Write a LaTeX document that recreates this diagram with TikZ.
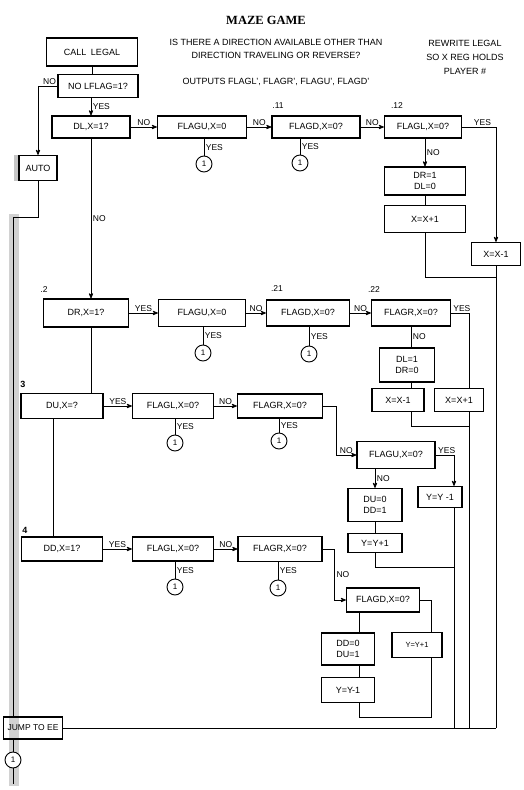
\documentclass[tikz,border=0pt]{standalone}
\usepackage{fontspec}
\setmainfont{Liberation Sans}
\newfontfamily\titlefont{Liberation Serif}
\usetikzlibrary{arrows}

\begin{document}
\begin{tikzpicture}[>=stealth',x=1pt,y=-1pt,line width=0.8pt]
	\path[use as bounding box,fill=white] (0,0) rectangle (523,790);
	\tikzset{box/.style={draw,fill=white,line width=1.3pt,inner sep=0pt,align=center,font=\fontsize{9}{11}\selectfont}}
	\tikzset{heavy/.style={line width=1.9pt}}
	\tikzset{sz/.style 2 args={minimum width=#1pt,minimum height=#2pt}}
	\tikzset{conn/.style={circle,draw,fill=white,line width=0.9pt,minimum size=16pt,inner sep=0pt,font=\fontsize{8}{9}\selectfont}}
	\tikzset{lbl/.style={font=\fontsize{8.5}{10}\selectfont,inner sep=1.5pt}}
	\tikzset{tag/.style={font=\fontsize{8.5}{10}\selectfont,inner sep=0pt}}
	\tikzset{note/.style={align=center,font=\fontsize{9}{13.5}\selectfont}}
	\fill[gray!35] (9,214) rectangle (19,786);
	
	\node[font=\titlefont\bfseries\fontsize{12.5}{14}\selectfont] (title) at (266,20) {MAZE GAME};
	\node[note] (ask) at (276,49) {IS THERE A DIRECTION AVAILABLE OTHER THAN\\DIRECTION TRAVELING OR REVERSE?};
	\node[note] (outputs) at (276,82) {OUTPUTS FLAGL', FLAGR', FLAGU', FLAGD'};
	\node[note,font=\fontsize{9}{14}\selectfont] (rewrite) at (465,57) {REWRITE LEGAL\\SO X REG HOLDS\\PLAYER \#};
	
	\node[box,heavy,sz={91}{28}] (call)   at (92,52)  {CALL\enspace LEGAL};
	\node[box,sz={80}{23}]       (lflag)  at (98,86)  {NO LFLAG=1?};
	\node[box,sz={38}{25}]       (auto)   at (38,168) {AUTO};
	\node[box,sz={78}{22}]       (dl)     at (91,127) {DL,X=1?};
	\node[box,sz={89}{22}]       (flagua) at (202,127) {FLAGU,X=0};
	\node[box,sz={88}{22}]       (flagda) at (316,127) {FLAGD,X=0?};
	\node[box,sz={77}{22}]       (flagla) at (423,127) {FLAGL,X=0?};
	\node[box,sz={81}{28}]       (drdl)   at (425,181) {DR=1\\DL=0};
	\node[box,sz={81}{27}]       (incxa)  at (425,219) {X=X+1};
	\node[box,sz={49}{23}]       (decxa)  at (496,254) {X=X-1};
	
	\node[box,sz={85}{28}]       (dr)     at (86,313)  {DR,X=1?};
	\node[box,sz={87}{27}]       (flagub) at (202,313) {FLAGU,X=0};
	\node[box,sz={83}{26}]       (flagdb) at (308,313) {FLAGD,X=0?};
	\node[box,sz={79}{26}]       (flagrb) at (411,313) {FLAGR,X=0?};
	\node[box,sz={55}{34}]       (dldr)   at (407,365) {DL=1\\DR=0};
	\node[box,sz={52}{23}]       (decxb)  at (398,400) {X=X-1};
	\node[box,sz={49}{23}]       (incxb)  at (459,400) {X=X+1};
	
	\node[box,heavy,sz={82}{25}] (du)     at (62,406)  {DU,X=?};
	\node[box,sz={81}{25}]       (flaglc) at (173,406) {FLAGL,X=0?};
	\node[box,sz={85}{24}]       (flagrc) at (280,406) {FLAGR,X=0?};
	\node[box,sz={78}{27}]       (flaguc) at (396,455) {FLAGU,X=0?};
	\node[box,sz={44}{21}]       (decyc)  at (440,497) {Y=Y -1};
	\node[box,sz={54}{33}]       (duddc)  at (375,505) {DU=0\\DD=1};
	\node[box,sz={54}{19}]       (incyc)  at (375,543) {Y=Y+1};
	
	\node[box,sz={81}{24}]       (dd)     at (62,549)  {DD,X=1?};
	\node[box,sz={81}{24}]       (flagld) at (173,549) {FLAGL,X=0?};
	\node[box,sz={84}{25}]       (flagrd) at (280,549) {FLAGR,X=0?};
	\node[box,sz={73}{24}]       (flagdd) at (383,600) {FLAGD,X=0?};
	\node[box,sz={50}{25},font=\fontsize{7.5}{9}\selectfont] (incyd) at (417,645) {Y=Y+1};
	\node[box,sz={53}{32}]       (ddud)   at (348,649) {DD=0\\DU=1};
	\node[box,sz={53}{25}]       (decyd)  at (348,690) {Y=Y-1};
	
	\node[box,fill=none,sz={59}{22},font=\fontsize{8.5}{10}\selectfont] (jump) at (33,728) {JUMP TO EE};
	\fill[gray!45] ([xshift=-4.5pt]auto.north west) rectangle ([xshift=-0.6pt]auto.south west);
	
	\node[conn] (c1) at (204,164) {1};
	\node[conn] (c2) at (300,163) {1};
	\node[conn] (c3) at (203,353) {1};
	\node[conn] (c4) at (309,354) {1};
	\node[conn] (c5) at (175,443) {1};
	\node[conn] (c6) at (279,441) {1};
	\node[conn] (c7) at (175,587) {1};
	\node[conn] (c8) at (278,588) {1};
	\node[conn] (c9) at (13,760)  {1};
	
	\node[tag] (t11) at (278,106) {.11};
	\node[tag] (t12) at (397,106) {.12};
	\node[tag] (t2)  at (44,290)  {.2};
	\node[tag] (t21) at (277,289) {.21};
	\node[tag] (t22) at (374,290) {.22};
	\node[tag,font=\bfseries\fontsize{9}{10}\selectfont] (t3) at (23,384) {3};
	\node[tag,font=\bfseries\fontsize{9}{10}\selectfont] (t4) at (25,530) {4};
	
	\coordinate (ret)    at (13,217);
	\coordinate (tail)   at (13,784);
	\coordinate (mergea) at (496,277);
	\coordinate (mergeb) at (469,426);
	\coordinate (mergec) at (454,567);
	\coordinate (loopd)  at (359,717);
	
	\draw (call) -- (call |- lflag.north);
	\draw[->] (lflag.west) -| node[lbl,pos=0.2,above] {NO} (auto.north);
	\path (lflag.south -| dl) edge[->] node[lbl,right] {YES} (dl.north)
	(dl.south) edge[->] node[lbl,right] {NO} (dl.south |- dr.north)
	(dr.south -| dl) edge (du.north -| dl)
	([xshift=-9pt]du.south) edge ([xshift=-9pt]dd.north);
	\draw (auto.south) |- (ret) -- (ret |- jump.north);
	\draw (jump.south -| ret) -- (c9) -- (tail);
	\draw (jump.east) -- (decxa.south |- jump.east);
	
	\path
	(dl)     edge[->] node[lbl,above] {NO} (flagua)
	(flagua) edge[->] node[lbl,above] {NO} (flagda)
	(flagda) edge[->] node[lbl,above] {NO} (flagla)
	(flagua.south -| c1) edge node[lbl,right] {YES} (c1)
	(flagda.south -| c2) edge node[lbl,right] {YES} (c2)
	(flagla.south -| drdl) edge[->] node[lbl,right] {NO} (drdl.north)
	(drdl)   edge (incxa);
	\draw[->] (flagla.east) -| node[lbl,pos=0.3,above] {YES} (decxa.north);
	\draw (incxa.south) |- (mergea);
	\draw (decxa.south) -- (decxa.south |- jump.east);
	
	\path
	(dr)     edge[->] node[lbl,above] {YES} (flagub)
	(flagub) edge[->] node[lbl,above] {NO} (flagdb)
	(flagdb) edge[->] node[lbl,above] {NO} (flagrb)
	(flagub.south -| c3) edge node[lbl,right] {YES} (c3)
	(flagdb.south -| c4) edge node[lbl,right] {YES} (c4)
	(flagrb.south) edge node[lbl,right] {NO} (flagrb.south |- dldr.north)
	(dldr.south -| flagrb) edge (decxb.north -| flagrb);
	\draw (flagrb.east) -| node[lbl,pos=0.3,above] {YES} (mergeb |- incxb.north);
	\draw (decxb.south -| flagrb) |- (mergeb);
	\draw (mergeb |- incxb.south) -- (mergeb |- jump.east);
	
	\path
	(du)     edge[->] node[lbl,above] {YES} (flaglc)
	(flaglc) edge[->] node[lbl,above] {NO} (flagrc)
	(flaglc.south -| c5) edge node[lbl,right] {YES} (c5)
	(flagrc.south -| c6) edge node[lbl,right] {YES} (c6)
	(flaguc.south -| duddc) edge[->] node[lbl,right] {NO} (duddc.north)
	(duddc)  edge (incyc);
	\draw[->] (flagrc.east) -- ++(13,0) |- node[lbl,pos=0.75,above] {NO} (flaguc.west);
	\draw[->] (flaguc.east) -| node[lbl,pos=0.3,above] {YES} (mergec |- decyc.north);
	\draw (incyc.south) |- (mergec);
	\draw (mergec |- decyc.south) -- (mergec |- jump.east);
	
	\path
	(dd)     edge[->] node[lbl,above] {YES} (flagld)
	(flagld) edge[->] node[lbl,above] {NO} (flagrd)
	(flagld.south -| c7) edge node[lbl,right] {YES} (c7)
	(flagrd.south -| c8) edge node[lbl,right] {YES} (c8)
	(flagdd.south -| loopd) edge (ddud.north -| loopd)
	(ddud.south -| loopd) edge (decyd.north -| loopd);
	\draw[->] (flagrd.east) -- ++(12,0) |- node[lbl,pos=0.25,right] {NO} (flagdd.west);
	\draw (flagdd.east) -| ([xshift=14pt]incyd.north);
	\draw (decyd.south -| loopd) -- (loopd) -| ([xshift=14pt]incyd.south);
	
\end{tikzpicture}
\end{document}
